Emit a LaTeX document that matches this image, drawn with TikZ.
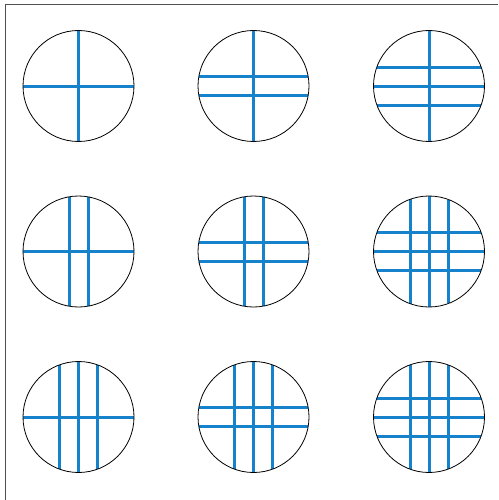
\documentclass[tikz,border=0pt]{standalone}
\definecolor{gridblue}{RGB}{22,130,204}
\definecolor{framegray}{RGB}{80,80,80}
\begin{document}
\begin{tikzpicture}[x=1pt,y=-1pt,
  ring/.style={draw=black, line width=0.8pt},
  cut/.style={draw=gridblue, line width=3pt},
  frameline/.style={draw=framegray, line width=1pt}]
\useasboundingbox (0,0) rectangle (498,500);
\draw[frameline] (5.5,500) -- (5.5,4.5) -- (498,4.5);
\foreach \cx/\cy/\nv/\nh in {78.5/86/1/1, 253.5/86/1/2, 429/86/1/3,
                             78.5/251.5/2/1, 253.5/251.5/2/2, 429/251.5/3/3,
                             78.5/417/3/1, 253.5/417/3/2, 429/417/3/3} {
  \begin{scope}[shift={(\cx,\cy)}]
    \foreach \i in {1,...,\nv} {
      \pgfmathsetmacro\d{floor(\cx+(\i-(\nv+1)/2)*19)+0.5-\cx}
      \pgfmathsetmacro\h{sqrt(55.5*55.5-\d*\d)}
      \draw[cut] (\d,-\h) -- (\d,\h);
    }
    \foreach \j in {1,...,\nh} {
      \pgfmathsetmacro\d{floor(\cy+(\j-(\nh+1)/2)*19)+0.5-\cy}
      \pgfmathsetmacro\h{sqrt(55.5*55.5-\d*\d)}
      \draw[cut] (-\h,\d) -- (\h,\d);
    }
    \draw[ring] (0,0) circle (55.5pt);
  \end{scope}
}
\end{tikzpicture}
\end{document}
